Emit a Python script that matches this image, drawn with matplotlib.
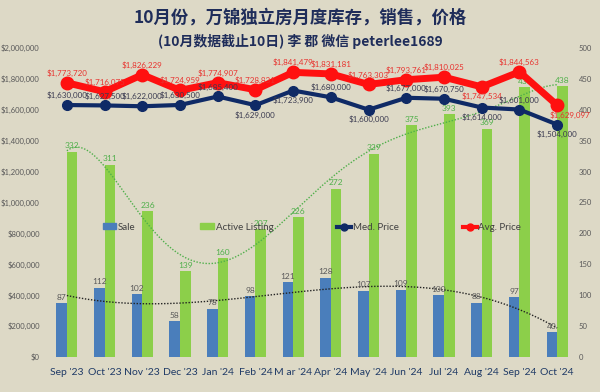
import numpy as np
import matplotlib
matplotlib.use("Agg")
import matplotlib.pyplot as plt
from matplotlib.lines import Line2D
from matplotlib.patches import Patch

plt.rcParams['font.family'] = ['Lato', 'Noto Sans CJK SC', 'DejaVu Sans']

months = ["Sep '23", "Oct '23", "Nov '23", "Dec '23", "Jan '24", "Feb '24", "M ar '24",
          "Apr '24", "May '24", "Jun '24", "Jul '24", "Aug '24", "Sep '24", "Oct '24"]
sale = [87, 112, 102, 58, 78, 98, 121, 128, 107, 109, 100, 88, 97, 40]
active = [332, 311, 236, 139, 160, 207, 226, 272, 329, 375, 393, 369, 436, 438]
med_price = [1630000, 1627500, 1622000, 1630500, 1685400, 1629000, 1723900,
             1680000, 1600000, 1677000, 1670750, 1614000, 1601000, 1504000]
avg_price = [1773720, 1716075, 1826229, 1724959, 1774907, 1728831, 1841479,
             1831181, 1763303, 1793761, 1810025, 1747534, 1844563, 1629097]
# label placement styles (1 = above, -1 = below)
med_pos = [1, 1, 1, 1, 1, -1, -1, 1, -1, 1, 1, -1, 1, -1]
avg_pos = [1, 1, 1, 1, 1, 1, 1, 1, 1, 1, 1, -1, 1, -1]

BG = '#DDD9C6'
BLUE = '#4A7EBB'
GREEN = '#8CCF4A'
NAVY = '#0F2A66'
RED = '#FF1010'
GREY = '#595959'
LGREEN = '#4FAF4A'

fig = plt.figure(figsize=(6, 3.92), dpi=100, facecolor=BG)
ax = fig.add_axes([0.08, 0.089, 0.88, 0.789])
ax.set_facecolor(BG)
ax2 = ax.twinx()

x = np.arange(len(months))
w = 0.28
ax2.bar(x - w / 2, sale, w, color=BLUE, zorder=1)
ax2.bar(x + w / 2, active, w, color=GREEN, zorder=1)
for xi, v in zip(x, sale):
    ax2.text(xi - w / 2, v + 4, str(v), ha='center', va='bottom', fontsize=6, color=GREY)
for xi, v in zip(x, active):
    ax2.text(xi + w / 2, v + 4, str(v), ha='center', va='bottom', fontsize=6, color=LGREEN)

# polynomial trendlines
xs = np.linspace(0, len(months) - 1, 200)
ps = np.polyfit(x, sale, 4)
ax2.plot(xs, np.polyval(ps, xs), ls=(0, (1, 1.2)), color='#222222', lw=1.0)
pa = np.polyfit(x, active, 6)
ax2.plot(xs, np.polyval(pa, xs), ls=(0, (1, 1.2)), color=LGREEN, lw=1.0)

ax2.set_ylim(0, 500)
ax2.set_yticks(np.arange(0, 501, 50))

ax.set_zorder(ax2.get_zorder() + 1)
ax.patch.set_visible(False)
ax.plot(x, avg_price, color=RED, lw=5, marker='o', ms=9, zorder=3)
ax.plot(x, med_price, color=NAVY, lw=3, marker='o', ms=7, zorder=4)
for xi, v, p in zip(x, avg_price, avg_pos):
    dx = 0.35 if xi == len(months) - 1 else 0
    ax.text(xi + dx, v + p * 38000, f"${v:,.0f}", ha='center', va='bottom' if p > 0 else 'top',
            fontsize=5.8, color='#E8322E', zorder=5)
for xi, v, p in zip(x, med_price, med_pos):
    ax.text(xi, v + p * 38000, f"${v:,.0f}", ha='center', va='bottom' if p > 0 else 'top',
            fontsize=5.8, color='#3A3A50', zorder=5)

ax.set_ylim(0, 2000000)
ax.set_yticks(np.arange(0, 2000001, 200000))
ax.set_yticklabels([f"${v:,.0f}" for v in np.arange(0, 2000001, 200000)])
ax.set_xlim(-0.5, len(months) - 0.5)
ax.set_xticks(x)
ax.set_xticklabels(months)

for a in (ax, ax2):
    for s in a.spines.values():
        s.set_visible(False)
    a.tick_params(length=0)
ax.tick_params(axis='y', labelsize=5.5, labelcolor=GREY, pad=6)
ax2.tick_params(axis='y', labelsize=5.5, labelcolor=GREY, pad=2)
ax.tick_params(axis='x', labelsize=7.5, labelcolor='#1F3A66', pad=8)

handles = [Patch(color=BLUE), Patch(color=GREEN),
           Line2D([], [], color=NAVY, lw=3, marker='o', ms=5),
           Line2D([], [], color=RED, lw=3, marker='o', ms=5)]
leg = ax.legend(handles, ['Sale', 'Active Listing', 'Med. Price', 'Avg. Price'],
                loc='center', bbox_to_anchor=(0.5, 0.42), ncol=4, frameon=False,
                fontsize=7, columnspacing=6.6, handlelength=1.4, handletextpad=0.2,
                handleheight=0.5)
for t in leg.get_texts():
    t.set_color('#404040')

fig.text(0.5, 0.955, "10月份，万锦独立房月度库存，销售，价格", ha='center', va='center',
         fontsize=12.5, fontweight='bold', color='#1F2D5A',
         family=['Noto Sans CJK SC', 'DejaVu Sans'])
fig.text(0.5, 0.895, "(10月数据截止10日) 李 郡 微信 peterlee1689", ha='center', va='center',
         fontsize=10, fontweight='bold', color='#1F2D5A',
         family=['Noto Sans CJK SC', 'DejaVu Sans'])

fig.savefig('out.png', dpi=100, facecolor=BG)
